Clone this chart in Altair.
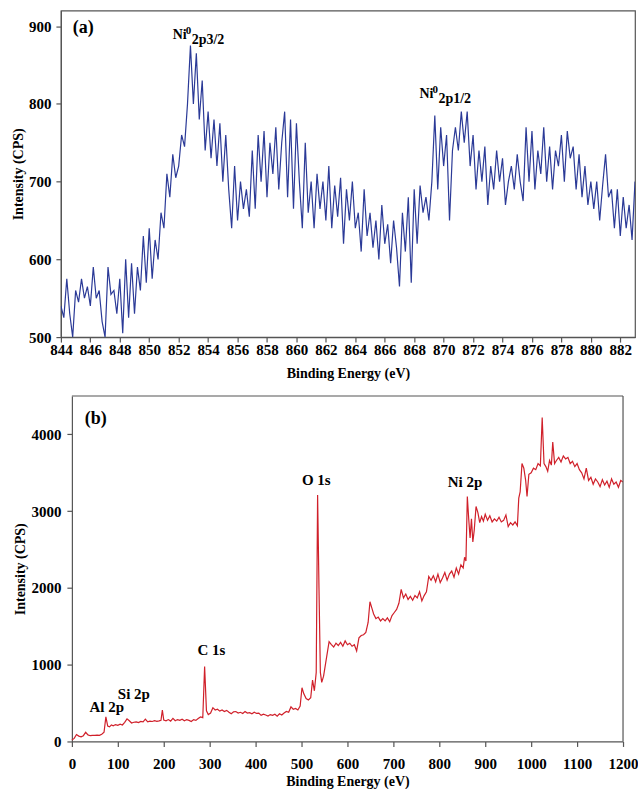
import altair as alt
import pandas as pd

# ---------- Panel (a): Ni 2p high-resolution spectrum (0.2 eV steps from 844.0) ----------
A_START = 844.0
A_STEP = 0.2
I_A = [
    540, 525, 575, 530, 500, 560, 545, 575, 550, 565,
    540, 590, 550, 560, 520, 500, 590, 555, 560, 530,
    575, 505, 600, 525, 595, 530, 590, 560, 630, 570,
    640, 575, 625, 600, 660, 640, 710, 680, 735, 705,
    720, 760, 745, 800, 875, 800, 865, 780, 830, 740,
    790, 730, 780, 720, 775, 700, 760, 690, 640, 720,
    650, 700, 665, 690, 655, 740, 665, 760, 700, 765,
    680, 750, 710, 770, 690, 750, 790, 680, 780, 665,
    775, 700, 640, 750, 660, 700, 640, 710, 665, 700,
    650, 720, 640, 695, 655, 705, 620, 690, 650, 700,
    640, 660, 610, 690, 630, 660, 615, 650, 600, 670,
    620, 645, 595, 650, 615, 565, 660, 610, 680, 570,
    690, 620, 695, 660, 680, 650, 700, 785, 690, 770,
    720, 760, 650, 740, 770, 740, 790, 750, 790, 720,
    760, 690, 740, 700, 745, 670, 720, 690, 740, 700,
    730, 670, 700, 720, 690, 735, 700, 675, 770, 700,
    765, 690, 740, 710, 770, 700, 745, 690, 740, 720,
    760, 700, 765, 730, 745, 690, 735, 680, 720, 670,
    700, 665, 700, 650, 695, 735, 680, 690, 640, 690,
    630, 680, 640, 670, 625, 700,
]
E_A = [round(A_START + A_STEP * i, 1) for i in range(len(I_A))]

# ---------- Panel (b): survey spectrum ----------
E_B = [
    0, 5, 10, 15, 20, 25, 30, 35, 40, 45, 50, 55, 60, 65, 70, 74, 78, 82, 86, 90,
    95, 100, 105, 110, 115, 120, 125, 130, 135, 140, 145, 150, 155, 160, 165, 170, 175, 180, 185, 190,
    194, 197, 200, 205, 210, 215, 220, 225, 230, 235, 240, 245, 250, 255, 260, 265, 270, 275, 280, 285,
    289, 293, 297, 302, 307, 312, 317, 322, 327, 332, 337, 342, 347, 352, 357, 362, 367, 372, 377, 382,
    387, 392, 397, 402, 407, 412, 417, 422, 427, 432, 437, 442, 447, 452, 457, 462, 467, 472, 477, 482,
    487, 492, 497, 501, 505, 510, 515, 520, 524, 528, 532, 535, 538, 541, 544, 548, 552, 556, 560, 565,
    570, 575, 580, 585, 590, 595, 600, 605, 610, 615, 620, 625, 630, 635, 640, 645, 649, 653, 657, 662,
    667, 672, 677, 682, 687, 692, 697, 702, 707, 712, 717, 722, 727, 732, 737, 742, 747, 752, 757, 762,
    767, 772, 777, 782, 787, 792, 797, 802, 807, 812, 817, 822, 827, 832, 837, 842, 847, 852, 855, 858,
    861, 864, 867, 870, 873, 876, 880, 884, 888, 892, 896, 900, 905, 910, 915, 920, 925, 930, 935, 940,
    945, 950, 955, 960, 965, 970, 973, 976, 980, 984, 988, 991, 995, 1000, 1005, 1010, 1015, 1020, 1024, 1028,
    1032, 1036, 1040, 1044, 1047, 1051, 1055, 1060, 1065, 1070, 1075, 1080, 1085, 1090, 1095, 1100, 1105, 1110, 1115, 1120,
    1125, 1130, 1135, 1140, 1145, 1150, 1155, 1160, 1165, 1170, 1175, 1180, 1185, 1190, 1195, 1200,
]
I_B = [
    20, 40, 90, 70, 60, 75, 120, 85, 75, 80, 78, 82, 80, 95, 120, 320, 200, 190, 215, 205,
    220, 210, 225, 215, 250, 295, 270, 240, 250, 255, 245, 260, 255, 290, 255, 265, 260, 270, 262, 268,
    275, 410, 280, 270, 285, 265, 300, 270, 285, 275, 290, 270, 285, 275, 260, 285, 275, 300, 320, 310,
    975, 400, 350, 370, 440, 410, 420, 395, 410, 390, 405, 380, 360, 385, 390, 370, 380, 365, 390, 370,
    375, 360, 380, 365, 370, 340, 355, 345, 330, 350, 340, 355, 330, 360, 345, 370, 390, 380, 450, 420,
    430, 410, 460, 700, 620, 560, 540, 570, 800, 660, 900, 3210, 2000, 900, 770, 850, 1000, 1150, 1300, 1260,
    1230, 1280, 1250, 1290, 1240, 1310, 1260, 1280, 1240, 1260, 1180, 1350, 1380, 1390, 1420, 1550, 1820, 1740, 1660, 1600,
    1620, 1570, 1600, 1570, 1610, 1560, 1640, 1680, 1720, 1800, 1980, 1870, 1920, 1850, 1890, 1840, 1900, 1870, 1950, 1830,
    1900, 1950, 2150, 2100, 2160, 2080, 2180, 2070, 2130, 2200, 2100, 2180, 2220, 2140, 2260, 2180, 2300, 2260, 2400, 2350,
    3190, 2900, 2650, 2900, 2600, 2750, 3060, 2980, 2850, 2930, 2870, 2960, 2880, 2940, 2860, 2900, 2870, 2920, 2860, 2880,
    2950, 2800, 2850, 2820, 2860, 2810, 3170, 3250, 3620, 3560, 3400, 3190, 3480, 3500, 3560, 3540, 3620, 3590, 4220, 3620,
    3580, 3520, 3660, 3600, 3900, 3620, 3660, 3700, 3640, 3720, 3680, 3700, 3620, 3650, 3580, 3620, 3540, 3500, 3420, 3560,
    3400, 3440, 3350, 3420, 3380, 3320, 3410, 3340, 3390, 3310, 3420, 3350, 3380, 3310, 3400, 3380,
]

# ---------- Labels ----------
A_TICKS = list(range(844, 884, 2))
A_YTICKS = [500, 600, 700, 800, 900]
B_TICKS = list(range(0, 1201, 100))
B_YTICKS = [0, 1000, 2000, 3000, 4000]
B_XDOMAIN = [0, 1200]
B_YDOMAIN = [0, 4500]
A_LABEL_E = [851.6, 868.36]
A_LABEL_I = [884, 807]
A_SUB = ["2p3/2", "2p1/2"]
B_LABELS = ["O 1s", "Ni 2p", "C 1s", "Si 2p", "Al 2p"]
B_LABEL_E = [532, 856, 304, 135, 76]
B_LABEL_I = [3335, 3309, 1120, 547, 378]

FONT = "Liberation Serif"
BLUE = "#2B3A97"
RED = "#D0202A"
AX = "#555555"

df_a = pd.DataFrame({"E": E_A, "I": I_A})
df_b = pd.DataFrame({"E": E_B, "I": I_B})


def axis(values, title, label_pad, title_pad, offset=0):
    return alt.Axis(
        values=values, title=title, grid=False, format="d",
        labelFont=FONT, titleFont=FONT, labelFontWeight="bold", titleFontWeight="bold",
        labelFontSize=15, titleFontSize=14, labelColor="black", titleColor="black",
        domainColor=AX, tickColor=AX, tickSize=5, labelPadding=label_pad, titlePadding=title_pad,
        domainWidth=1.2, tickWidth=1.2, labelOverlap=False, labelFlush=False, offset=offset,
    )


# ----- panel (a) -----
xa = alt.X("E:Q", scale=alt.Scale(domain=[844, 883], nice=False, zero=False),
           axis=axis(A_TICKS, "Binding Energy (eV)", 0, 9))
ya = alt.Y("I:Q", scale=alt.Scale(domain=[500, 920], nice=False, zero=False),
           axis=axis(A_YTICKS, "Intensity (CPS)", 5, 3))

line_a = alt.Chart(df_a).mark_line(color=BLUE, strokeWidth=1.2, clip=True).encode(x=xa, y=ya)

lab_a = pd.DataFrame({"E": A_LABEL_E, "I": A_LABEL_I, "sub": A_SUB})
ni_a = alt.Chart(lab_a).mark_text(font=FONT, fontWeight="bold", fontSize=14, align="left",
                                  baseline="alphabetic", color="black").encode(
    x=xa, y=ya, text=alt.value("Ni"))
sup_a = alt.Chart(lab_a).mark_text(font=FONT, fontWeight="bold", fontSize=11, align="left",
                                   baseline="alphabetic", dx=13, dy=-5, color="black").encode(
    x=xa, y=ya, text=alt.value("0"))
sub_a = alt.Chart(lab_a).mark_text(font=FONT, fontWeight="bold", fontSize=14, align="left",
                                   baseline="alphabetic", dx=19, dy=5, color="black").encode(
    x=xa, y=ya, text="sub:N")
panel_a_tag = alt.Chart(pd.DataFrame({"E": [844.8], "I": [891], "t": ["(a)"]})).mark_text(
    font=FONT, fontWeight="bold", fontSize=18, align="left", baseline="alphabetic", color="black"
).encode(x=xa, y=ya, text="t:N")

top = alt.layer(line_a, ni_a, sup_a, sub_a, panel_a_tag).properties(
    width=575, height=327, view=alt.ViewConfig(stroke=AX, strokeWidth=1.2))

# ----- panel (b): plot area indented 11px from the shared left edge -----
IND = 11
BW = 563
xb = alt.X("E:Q", scale=alt.Scale(domain=B_XDOMAIN, nice=False, range=[IND, BW]),
           axis=axis(B_TICKS, "Binding Energy (eV)", 10, 3))
yb = alt.Y("I:Q", scale=alt.Scale(domain=B_YDOMAIN, nice=False),
           axis=axis(B_YTICKS, "Intensity (CPS)", 6, 3, offset=-IND))

line_b = alt.Chart(df_b).mark_line(color=RED, strokeWidth=1.2, clip=True).encode(x=xb, y=yb)
lab_b = pd.DataFrame({"E": B_LABEL_E, "I": B_LABEL_I, "t": B_LABELS})
text_b = alt.Chart(lab_b).mark_text(font=FONT, fontWeight="bold", fontSize=15, align="center",
                                    baseline="alphabetic", color="black").encode(
    x=xb, y=yb, text="t:N")
panel_b_tag = alt.Chart(pd.DataFrame({"E": [28], "I": [4130], "t": ["(b)"]})).mark_text(
    font=FONT, fontWeight="bold", fontSize=18, align="left", baseline="alphabetic", color="black"
).encode(x=xb, y=yb, text="t:N")

frame_df = pd.DataFrame({
    "x1": [B_XDOMAIN[0], B_XDOMAIN[1]], "x2": [B_XDOMAIN[1], B_XDOMAIN[1]],
    "y1": [B_YDOMAIN[1], B_YDOMAIN[0]], "y2": [B_YDOMAIN[1], B_YDOMAIN[1]],
})
frame_b = alt.Chart(frame_df).mark_rule(color=AX, strokeWidth=1.2).encode(
    x=alt.X("x1:Q", scale=alt.Scale(domain=B_XDOMAIN, nice=False, range=[IND, BW]),
            axis=axis(B_TICKS, "Binding Energy (eV)", 10, 3)),
    x2="x2:Q",
    y=alt.Y("y1:Q", scale=alt.Scale(domain=B_YDOMAIN, nice=False),
            axis=axis(B_YTICKS, "Intensity (CPS)", 6, 3, offset=-IND)),
    y2="y2:Q",
)

bottom = alt.layer(line_b, frame_b, text_b, panel_b_tag).properties(
    width=BW, height=346, view=alt.ViewConfig(strokeOpacity=0))

chart = alt.vconcat(top, bottom, spacing=14).properties(
    padding={"left": 10, "top": 9, "right": 0, "bottom": 0}
)

chart.save("out.html", embed_options={"renderer": "svg", "actions": False})
